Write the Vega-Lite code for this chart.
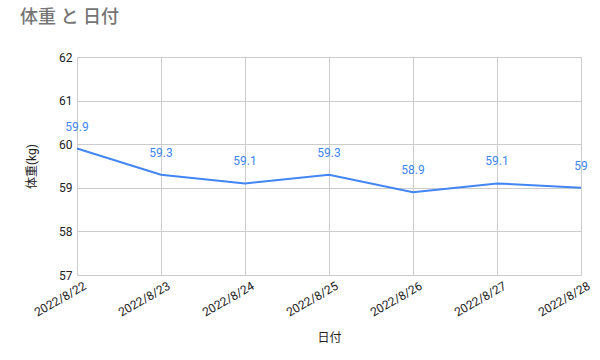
{
  "$schema": "https://vega.github.io/schema/vega-lite/v6.json",
  "width": 504,
  "height": 218,
  "autosize": {"type": "none"},
  "padding": {"left": 77, "top": 57, "right": 19, "bottom": 85},
  "background": "white",
  "title": {
    "text": "体重 と 日付",
    "anchor": "start",
    "frame": "group",
    "dx": -57,
    "offset": 24,
    "fontSize": 18,
    "font": "Roboto, Noto Sans CJK JP",
    "fontWeight": 500,
    "color": "#757575"
  },
  "config": {
    "view": {"stroke": null},
    "font": "Roboto, Noto Sans CJK JP",
    "axis": {
      "labelFont": "Roboto, Noto Sans CJK JP",
      "titleFont": "Roboto, Noto Sans CJK JP",
      "labelColor": "#222222",
      "titleColor": "#222222",
      "labelFontSize": 12,
      "titleFontSize": 12,
      "titleFontWeight": "normal",
      "gridColor": "#cccccc",
      "gridOpacity": 1,
      "domain": false,
      "ticks": false,
      "labelOverlap": false
    }
  },
  "data": {
    "values": [
      {"日付": "2022/8/22", "体重": 59.9},
      {"日付": "2022/8/23", "体重": 59.3},
      {"日付": "2022/8/24", "体重": 59.1},
      {"日付": "2022/8/25", "体重": 59.3},
      {"日付": "2022/8/26", "体重": 58.9},
      {"日付": "2022/8/27", "体重": 59.1},
      {"日付": "2022/8/28", "体重": 59}
    ]
  },
  "encoding": {
    "x": {
      "field": "日付",
      "type": "ordinal",
      "scale": {"type": "point", "padding": 0},
      "axis": {
        "title": "日付",
        "grid": true,
        "labelAngle": -30,
        "labelAlign": "right",
        "labelBaseline": "top",
        "labelPadding": 5,
        "labelOffset": 5,
        "titlePadding": 14
      }
    },
    "y": {
      "field": "体重",
      "type": "quantitative",
      "scale": {"domain": [57, 62], "nice": false, "zero": false},
      "axis": {"title": "体重(kg)", "values": [57, 58, 59, 60, 61, 62], "labelPadding": 5, "titlePadding": 20}
    }
  },
  "layer": [
    {"mark": {"type": "line", "color": "#4285F4", "strokeWidth": 2, "clip": false}},
    {
      "mark": {"type": "text", "color": "#4285F4", "fontSize": 12, "dy": -22, "align": "center", "font": "Roboto"},
      "encoding": {"text": {"field": "体重", "type": "quantitative"}}
    }
  ]
}
